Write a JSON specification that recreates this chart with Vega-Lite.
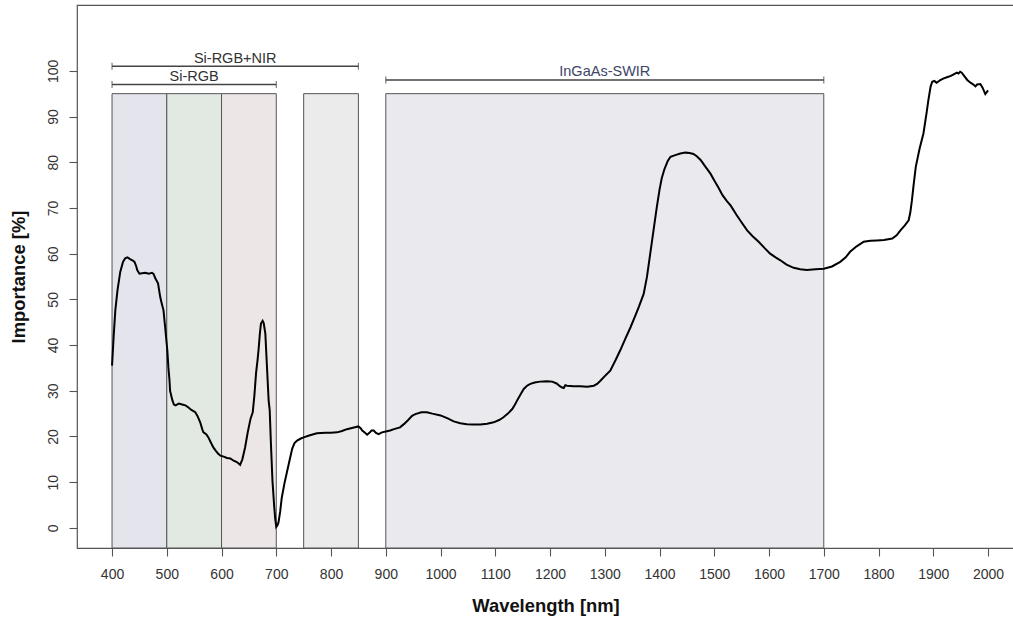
{
  "$schema": "https://vega.github.io/schema/vega-lite/v6.json",
  "autosize": {"type": "none"},
  "padding": {"left": 77, "top": 5, "right": 0, "bottom": 74},
  "width": 937,
  "height": 543,
  "background": "white",
  "config": {
    "view": {"stroke": "#555555", "strokeWidth": 1.2},
    "font": "Liberation Sans",
    "axis": {
      "domain": false, "grid": false, "tickColor": "#555555", "tickSize": 8, "tickWidth": 1.1,
      "labelFont": "Liberation Sans", "labelFontSize": 14, "labelColor": "#333333",
      "titleFont": "Liberation Sans", "titleFontSize": 18.4, "titleFontWeight": "bold", "titleColor": "#111111"
    }
  },
  "datasets": {
    "bands": [
      {"band": "Blue", "start": 400, "end": 500},
      {"band": "Green", "start": 500, "end": 600},
      {"band": "Red", "start": 600, "end": 700},
      {"band": "NIR", "start": 750, "end": 850},
      {"band": "SWIR", "start": 900, "end": 1700}
    ],
    "brackets": [
      {"label": "Si-RGB+NIR", "start": 400, "end": 850, "level": 101, "mid": 625, "group": "si"},
      {"label": "Si-RGB", "start": 400, "end": 700, "level": 97, "mid": 550, "group": "si"},
      {"label": "InGaAs-SWIR", "start": 900, "end": 1700, "level": 98, "mid": 1300, "group": "ingaas"}
    ],
    "curve": [
      {"nm":400,"v":35.5},{"nm":403,"v":42},{"nm":406,"v":47.6},{"nm":410,"v":52},{"nm":415,"v":56},{"nm":420,"v":58.2},{"nm":424,"v":59},{"nm":428,"v":59.2},{"nm":433,"v":58.8},{"nm":438,"v":58.5},{"nm":441,"v":58.2},{"nm":444,"v":57.3},{"nm":446,"v":56.4},{"nm":450,"v":55.6},{"nm":455,"v":55.7},{"nm":461,"v":55.8},{"nm":467,"v":55.6},{"nm":473,"v":55.8},{"nm":476,"v":55.5},{"nm":479,"v":54.6},{"nm":484,"v":53.5},{"nm":488,"v":50.5},{"nm":491,"v":49},{"nm":494,"v":47.6},{"nm":497,"v":43.9},{"nm":501,"v":38.8},{"nm":503,"v":35},{"nm":505,"v":32.2},{"nm":506,"v":30},{"nm":510,"v":28},{"nm":513,"v":27},{"nm":516,"v":26.8},{"nm":522,"v":27.2},{"nm":528,"v":27},{"nm":534,"v":26.8},{"nm":539,"v":26.4},{"nm":545,"v":25.8},{"nm":552,"v":25.3},{"nm":556,"v":24.5},{"nm":561,"v":23.1},{"nm":565,"v":21.5},{"nm":567,"v":20.9},{"nm":572,"v":20.5},{"nm":576,"v":19.8},{"nm":580,"v":18.8},{"nm":585,"v":17.6},{"nm":590,"v":16.8},{"nm":594,"v":16.2},{"nm":598,"v":15.8},{"nm":604,"v":15.6},{"nm":610,"v":15.3},{"nm":616,"v":15.2},{"nm":622,"v":14.7},{"nm":628,"v":14.4},{"nm":634,"v":13.8},{"nm":638,"v":15},{"nm":643,"v":17.6},{"nm":648,"v":21},{"nm":653,"v":23.9},{"nm":657,"v":25.3},{"nm":660,"v":29},{"nm":663,"v":33.8},{"nm":666,"v":37},{"nm":668,"v":39.5},{"nm":670,"v":42.5},{"nm":672,"v":44.7},{"nm":675,"v":45.3},{"nm":677,"v":44.8},{"nm":680,"v":42.5},{"nm":683,"v":35.2},{"nm":686,"v":27.9},{"nm":688,"v":25.7},{"nm":690,"v":19},{"nm":693,"v":10.3},{"nm":696,"v":5},{"nm":698,"v":2},{"nm":700,"v":0.2},{"nm":702,"v":0.5},{"nm":704,"v":1.2},{"nm":707,"v":3.5},{"nm":710,"v":6.6},{"nm":715,"v":9.8},{"nm":720,"v":12.5},{"nm":725,"v":15.2},{"nm":729,"v":17.3},{"nm":733,"v":18.5},{"nm":738,"v":19.1},{"nm":744,"v":19.5},{"nm":750,"v":19.8},{"nm":760,"v":20.2},{"nm":774,"v":20.7},{"nm":790,"v":20.8},{"nm":800,"v":20.8},{"nm":811,"v":20.9},{"nm":820,"v":21.2},{"nm":829,"v":21.6},{"nm":840,"v":21.9},{"nm":850,"v":22.2},{"nm":854,"v":21.8},{"nm":857,"v":21.3},{"nm":862,"v":20.8},{"nm":866,"v":20.4},{"nm":870,"v":20.8},{"nm":874,"v":21.3},{"nm":878,"v":21.3},{"nm":882,"v":20.8},{"nm":887,"v":20.5},{"nm":893,"v":20.9},{"nm":900,"v":21.1},{"nm":908,"v":21.3},{"nm":915,"v":21.6},{"nm":926,"v":22},{"nm":933,"v":22.7},{"nm":940,"v":23.5},{"nm":948,"v":24.5},{"nm":954,"v":24.9},{"nm":965,"v":25.3},{"nm":975,"v":25.3},{"nm":985,"v":25},{"nm":1000,"v":24.6},{"nm":1012,"v":24},{"nm":1024,"v":23.3},{"nm":1036,"v":22.9},{"nm":1048,"v":22.7},{"nm":1060,"v":22.6},{"nm":1073,"v":22.6},{"nm":1085,"v":22.8},{"nm":1097,"v":23.1},{"nm":1107,"v":23.6},{"nm":1115,"v":24.2},{"nm":1123,"v":25},{"nm":1131,"v":26},{"nm":1136,"v":27},{"nm":1140,"v":27.9},{"nm":1146,"v":29.2},{"nm":1152,"v":30.4},{"nm":1158,"v":31.1},{"nm":1164,"v":31.5},{"nm":1172,"v":31.8},{"nm":1182,"v":32},{"nm":1194,"v":32.1},{"nm":1204,"v":32},{"nm":1212,"v":31.6},{"nm":1218,"v":31},{"nm":1222,"v":30.7},{"nm":1225,"v":30.6},{"nm":1228,"v":31.2},{"nm":1231,"v":31.1},{"nm":1243,"v":31},{"nm":1255,"v":31},{"nm":1268,"v":30.9},{"nm":1280,"v":31.1},{"nm":1286,"v":31.5},{"nm":1292,"v":32.2},{"nm":1300,"v":33.2},{"nm":1310,"v":34.4},{"nm":1320,"v":36.8},{"nm":1328,"v":38.8},{"nm":1338,"v":41.5},{"nm":1347,"v":43.9},{"nm":1355,"v":46.2},{"nm":1362,"v":48.3},{"nm":1371,"v":51.2},{"nm":1377,"v":54.9},{"nm":1383,"v":60},{"nm":1389,"v":65.1},{"nm":1395,"v":70.2},{"nm":1400,"v":74},{"nm":1404,"v":76.5},{"nm":1409,"v":78.5},{"nm":1415,"v":80.3},{"nm":1420,"v":81.2},{"nm":1430,"v":81.6},{"nm":1438,"v":81.9},{"nm":1447,"v":82.1},{"nm":1455,"v":82},{"nm":1462,"v":81.8},{"nm":1468,"v":81.3},{"nm":1475,"v":80.5},{"nm":1484,"v":79},{"nm":1493,"v":77.5},{"nm":1500,"v":76},{"nm":1507,"v":74.6},{"nm":1515,"v":72.8},{"nm":1523,"v":71.5},{"nm":1530,"v":70.5},{"nm":1541,"v":68.4},{"nm":1550,"v":66.8},{"nm":1560,"v":65.1},{"nm":1570,"v":63.8},{"nm":1581,"v":62.6},{"nm":1592,"v":61.2},{"nm":1602,"v":60},{"nm":1612,"v":59.2},{"nm":1620,"v":58.6},{"nm":1632,"v":57.6},{"nm":1645,"v":56.9},{"nm":1657,"v":56.6},{"nm":1669,"v":56.4},{"nm":1685,"v":56.6},{"nm":1700,"v":56.7},{"nm":1715,"v":57.2},{"nm":1730,"v":58.2},{"nm":1740,"v":59.2},{"nm":1748,"v":60.4},{"nm":1760,"v":61.6},{"nm":1773,"v":62.6},{"nm":1785,"v":62.8},{"nm":1797,"v":62.9},{"nm":1810,"v":63},{"nm":1825,"v":63.3},{"nm":1833,"v":64},{"nm":1840,"v":65.1},{"nm":1848,"v":66.2},{"nm":1855,"v":67.3},{"nm":1858,"v":69},{"nm":1861,"v":71.7},{"nm":1864,"v":75},{"nm":1868,"v":79},{"nm":1875,"v":83},{"nm":1882,"v":86.3},{"nm":1888,"v":91},{"nm":1891,"v":93.6},{"nm":1895,"v":96.5},{"nm":1898,"v":97.6},{"nm":1902,"v":97.8},{"nm":1906,"v":97.4},{"nm":1912,"v":97.9},{"nm":1918,"v":98.3},{"nm":1925,"v":98.6},{"nm":1932,"v":98.9},{"nm":1938,"v":99.3},{"nm":1943,"v":99.6},{"nm":1946,"v":99.4},{"nm":1949,"v":99.8},{"nm":1952,"v":99.6},{"nm":1957,"v":98.8},{"nm":1962,"v":98},{"nm":1968,"v":97.4},{"nm":1972,"v":97.1},{"nm":1977,"v":96.6},{"nm":1980,"v":97},{"nm":1986,"v":97.1},{"nm":1990,"v":96.3},{"nm":1995,"v":94.9},{"nm":2000,"v":95.7}
    ]
  },
  "layer": [
    {
      "data": {"name": "bands"},
      "mark": {"type": "rect", "clip": true, "stroke": "#555555", "strokeWidth": 1},
      "encoding": {
        "x": {"field": "start", "type": "quantitative",
              "scale": {"domain": [336, 2047.4], "nice": false, "zero": false},
              "axis": {"values": [400,500,600,700,800,900,1000,1100,1200,1300,1400,1500,1600,1700,1800,1900,2000],
                       "format": "d", "title": "Wavelength [nm]", "labelPadding": 11, "titlePadding": 15, "labelFlush": false}},
        "x2": {"field": "end"},
        "y": {"datum": 95, "type": "quantitative",
              "scale": {"domain": [-4.4, 114.4], "nice": false, "zero": false},
              "axis": {"values": [0,10,20,30,40,50,60,70,80,90,100], "format": "d", "title": "Importance [%]",
                       "labelAngle": -90, "labelAlign": "center", "labelBaseline": "alphabetic",
                       "labelPadding": 12, "titlePadding": 18}},
        "y2": {"datum": -4.4},
        "fill": {"field": "band", "type": "nominal", "legend": null,
                 "scale": {"domain": ["Blue","Green","Red","NIR","SWIR"],
                           "range": ["#e4e5ec","#e2e9e3","#ede6e6","#ebebeb","#e9e9ee"]}}
      }
    },
    {
      "data": {"name": "brackets"},
      "mark": {"type": "rule", "color": "#444444", "strokeWidth": 1.6},
      "encoding": {
        "x": {"field": "start", "type": "quantitative"},
        "x2": {"field": "end"},
        "y": {"field": "level", "type": "quantitative"}
      }
    },
    {
      "data": {"name": "brackets"},
      "transform": [{"fold": ["start", "end"], "as": ["side", "pos"]}],
      "mark": {"type": "tick", "orient": "vertical", "color": "#444444", "size": 7, "thickness": 1.2},
      "encoding": {
        "x": {"field": "pos", "type": "quantitative"},
        "y": {"field": "level", "type": "quantitative"}
      }
    },
    {
      "data": {"name": "brackets"},
      "mark": {"type": "text", "fontSize": 14.5, "font": "Liberation Sans", "baseline": "alphabetic", "dy": -3.5},
      "encoding": {
        "x": {"field": "mid", "type": "quantitative"},
        "y": {"field": "level", "type": "quantitative"},
        "text": {"field": "label"},
        "color": {"field": "group", "type": "nominal", "legend": null,
                  "scale": {"domain": ["si", "ingaas"], "range": ["#333333", "#3d4466"]}}
      }
    },
    {
      "data": {"name": "curve"},
      "mark": {"type": "line", "color": "#000000", "strokeWidth": 2, "clip": true},
      "encoding": {
        "x": {"field": "nm", "type": "quantitative"},
        "y": {"field": "v", "type": "quantitative"}
      }
    }
  ]
}
